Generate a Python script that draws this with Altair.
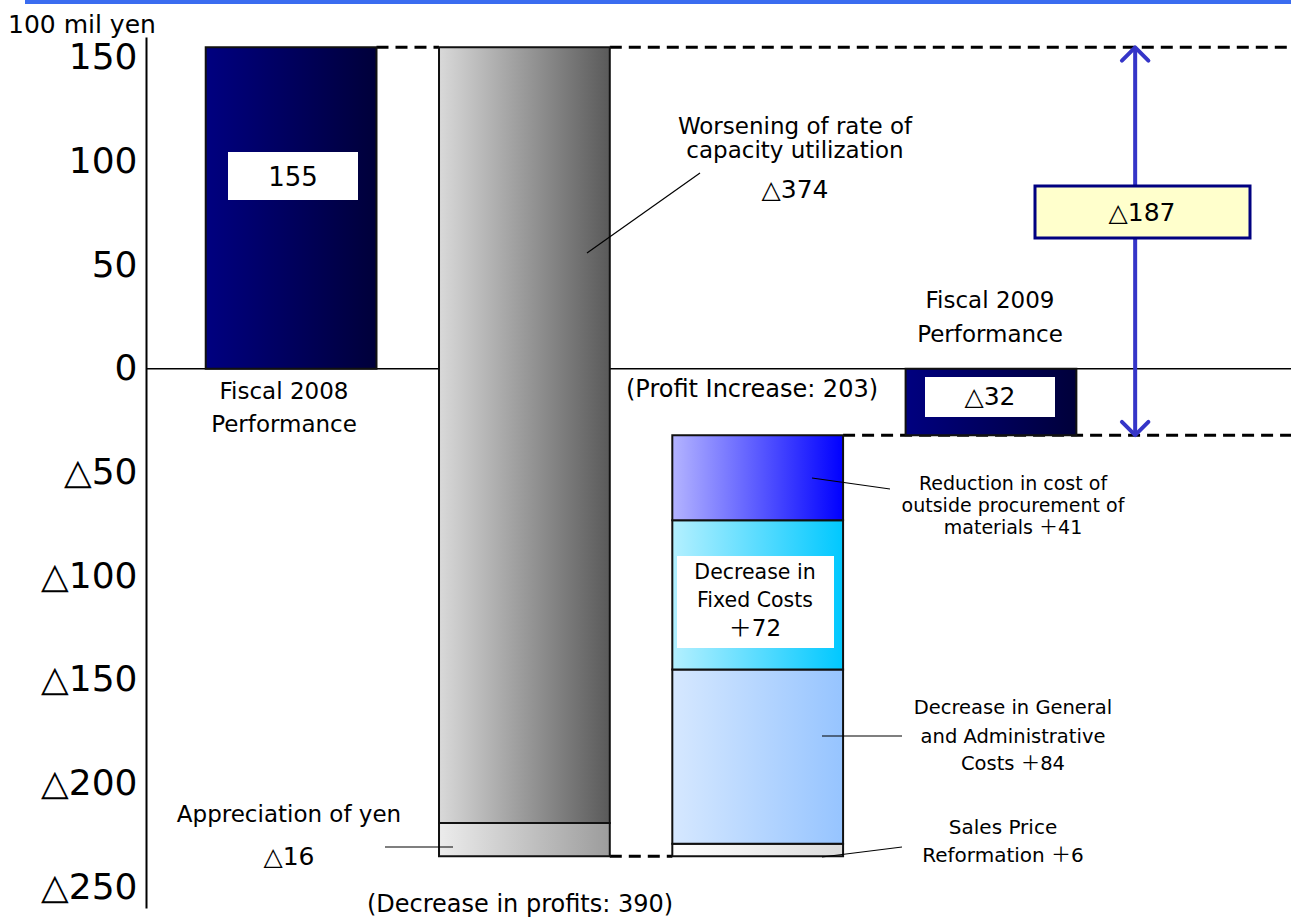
import altair as alt
import pandas as pd

# ---------------- data ----------------
steps = [
    "Fiscal 2008 Performance",
    "Worsening of rate of capacity utilization",
    "Appreciation of yen",
    "Sales Price Reformation",
    "Decrease in General and Administrative Costs",
    "Decrease in Fixed Costs",
    "Reduction in cost of outside procurement of materials",
    "Fiscal 2009 Performance",
]
values = [155, -374, -16, 6, 84, 72, 41, -32]
kinds = ["total", "delta", "delta", "delta", "delta", "delta", "delta", "total"]
columns = [1, 2, 2, 3, 3, 3, 3, 4]
fill_left = ["#000080", "#d9d9d9", "#ececec", "#ffffff", "#d6e8ff", "#b4f0ff", "#b4b4ff", "#000080"]
fill_right = ["#00003a", "#5a5a5a", "#9c9c9c", "#dcdcdc", "#96c4ff", "#00c8ff", "#0000ff", "#00003a"]

y_ticks = [150, 100, 50, 0, -50, -100, -150, -200, -250]

# ---------------- layout constants ----------------
LEFT, TOP = 146, 37
W, H = 1145, 871
Y_DOM = [-260, 160]
X_DOM = [0.378, 5.286]
HALF = 0.366
FONT = "DejaVu Sans, Noto Sans CJK JP"

rows = []
cum = 0
for s, v, k, c in zip(steps, values, kinds, columns):
    if k == "total":
        lo, hi = 0, v
        cum = v
    else:
        lo, hi = cum, cum + v
        cum = cum + v
    rows.append(dict(step=s, lo=lo, hi=hi, x0=c - HALF, x1=c + HALF))
bars = pd.DataFrame(rows)

xs = alt.Scale(domain=X_DOM, nice=False, zero=False)
ys = alt.Scale(domain=Y_DOM, nice=False, zero=False)
yaxis = alt.Axis(
    values=y_ticks,
    title=None,
    grid=False,
    ticks=False,
    domain=True,
    domainColor="black",
    domainWidth=2,
    labelFont=FONT,
    labelFontSize=36,
    labelColor="black",
    labelPadding=9,
    labelExpr="datum.value < 0 ? '△' + abs(datum.value) : datum.label",
)


def YQ(field):
    return alt.Y(field, scale=ys, axis=yaxis, title=None)


def XQ(field):
    return alt.X(field, scale=xs, axis=None, title=None)


layers = []

# zero line
zero = pd.DataFrame({"y": [0], "xa": [X_DOM[0]], "xb": [X_DOM[1]]})
layers.append(
    alt.Chart(zero).mark_rule(color="black", strokeWidth=1.5).encode(
        x=XQ("xa:Q"), x2="xb", y=YQ("y:Q")
    )
)

# dashed connectors (waterfall levels)
b = bars.set_index("step")
conn = pd.DataFrame(
    {
        "y": [b.loc[steps[0], "hi"], b.loc[steps[0], "hi"], b.loc[steps[2], "hi"], b.loc[steps[6], "hi"]],
        "xa": [1 + HALF, 2 + HALF, 2 + HALF, 3 + HALF],
        "xb": [2 - HALF, X_DOM[1], 3 - HALF, X_DOM[1]],
    }
)
layers.append(
    alt.Chart(conn).mark_rule(color="black", strokeWidth=3, strokeDash=[12, 7]).encode(
        x=XQ("xa:Q"), x2="xb", y=YQ("y:Q")
    )
)

# bars with gradient fills
for s, cl, cr in zip(steps, fill_left, fill_right):
    grad = alt.LinearGradient(
        gradient="linear",
        stops=[alt.GradientStop(color=cl, offset=0), alt.GradientStop(color=cr, offset=1)],
        x1=0, x2=1, y1=0, y2=0,
    )
    layers.append(
        alt.Chart(bars)
        .transform_filter(alt.datum.step == s)
        .mark_rect(fill=grad, stroke="#111111", strokeWidth=2)
        .encode(x=XQ("x0:Q"), x2="x1", y=YQ("lo:Q"), y2="hi")
    )

# double arrow for the change (155 -> -32)
ARROW_X = 4.618
arrow = pd.DataFrame({"x": [ARROW_X], "a": [values[0]], "b": [values[-1]]})
ARROW_COL = "#3535c8"
layers.append(
    alt.Chart(arrow).mark_rule(color=ARROW_COL, strokeWidth=4).encode(
        x=XQ("x:Q"), y=YQ("a:Q"), y2="b"
    )
)
layers.append(
    alt.Chart(arrow).mark_point(
        shape="M -1 1 L 0 0 L 1 1", size=700, stroke=ARROW_COL, strokeWidth=4,
        filled=False, opacity=1, strokeCap="round", strokeJoin="round"
    ).encode(x=XQ("x:Q"), y=YQ("a:Q"))
)
layers.append(
    alt.Chart(arrow).mark_point(
        shape="M -1 -1 L 0 0 L 1 -1", size=700, stroke=ARROW_COL, strokeWidth=4,
        filled=False, opacity=1, strokeCap="round", strokeJoin="round"
    ).encode(x=XQ("x:Q"), y=YQ("b:Q"))
)

# annotation boxes (pixel positions in the page)
boxes = pd.DataFrame(
    {
        "x0": [228, 925, 677, 1035],
        "x1": [358, 1055, 834, 1250],
        "y0": [152, 377, 556, 186],
        "y1": [200, 417, 648, 238],
        "fill": ["white", "white", "white", "#ffffcc"],
        "stroke": ["white", "white", "white", "#000080"],
        "sw": [0, 0, 0, 3],
    }
)
boxes[["x0", "x1"]] = boxes[["x0", "x1"]] - LEFT
boxes[["y0", "y1"]] = boxes[["y0", "y1"]] - TOP
layers.append(
    alt.Chart(boxes).mark_rect().encode(
        x=alt.X("x0:Q", scale=None, axis=None),
        x2="x1",
        y=alt.Y("y0:Q", scale=None, axis=None),
        y2="y1",
        fill=alt.Fill("fill:N", scale=None),
        stroke=alt.Stroke("stroke:N", scale=None),
        strokeWidth=alt.StrokeWidth("sw:Q", scale=None),
    )
)

# leader lines
leaders = pd.DataFrame(
    {
        "xa": [587, 812, 822, 822, 385],
        "ya": [253, 478, 736, 857, 847],
        "xb": [700, 890, 902, 902, 453],
        "yb": [173, 489, 736, 847, 847],
    }
)
leaders[["xa", "xb"]] = leaders[["xa", "xb"]] - LEFT
leaders[["ya", "yb"]] = leaders[["ya", "yb"]] - TOP
layers.append(
    alt.Chart(leaders).mark_rule(color="black", strokeWidth=1.2).encode(
        x=alt.X("xa:Q", scale=None, axis=None),
        y=alt.Y("ya:Q", scale=None, axis=None),
        x2="xb",
        y2="yb",
    )
)

# top blue band
band = pd.DataFrame({"xa": [25 - LEFT], "xb": [1291 - LEFT], "y": [2 - TOP]})
layers.append(
    alt.Chart(band).mark_rule(color="#3a6cf0", strokeWidth=4).encode(
        x=alt.X("xa:Q", scale=None, axis=None), x2="xb", y=alt.Y("y:Q", scale=None, axis=None)
    )
)

# texts
texts = [
    ("100 mil yen", 8, 25, 25, "left"),
    ("155", 293, 178, 26, "center"),
    ("Fiscal 2008", 284, 392, 23, "center"),
    ("Performance", 284, 425, 23, "center"),
    ("Worsening of rate of", 795, 127, 23, "center"),
    ("capacity utilization", 795, 151, 23, "center"),
    ("△374", 795, 190, 25, "center"),
    ("Fiscal 2009", 990, 301, 23, "center"),
    ("Performance", 990, 335, 23, "center"),
    ("(Profit Increase: 203)", 752, 390, 24, "center"),
    ("△32", 990, 397, 25, "center"),
    ("△187", 1142, 213, 25, "center"),
    ("Reduction in cost of", 1013, 484, 19, "center"),
    ("outside procurement of", 1013, 506, 19, "center"),
    ("materials ＋41", 1013, 528, 19, "center"),
    ("Decrease in", 755, 573, 20.5, "center"),
    ("Fixed Costs", 755, 601, 20.5, "center"),
    ("＋72", 755, 629, 23, "center"),
    ("Decrease in General", 1013, 708, 19.5, "center"),
    ("and Administrative", 1013, 737, 19.5, "center"),
    ("Costs ＋84", 1013, 764, 19.5, "center"),
    ("Sales Price", 1003, 828, 20, "center"),
    ("Reformation ＋6", 1003, 856, 20, "center"),
    ("Appreciation of yen", 289, 815, 23, "center"),
    ("△16", 289, 857, 25, "center"),
    ("(Decrease in profits: 390)", 520, 905, 24, "center"),
]
tdf = pd.DataFrame(texts, columns=["t", "x", "y", "fs", "al"])
tdf["x"] = tdf["x"] - LEFT
tdf["y"] = tdf["y"] - TOP
for al in ["left", "center"]:
    layers.append(
        alt.Chart(tdf)
        .transform_filter(alt.datum.al == al)
        .mark_text(font=FONT, color="black", align=al, baseline="middle")
        .encode(
            x=alt.X("x:Q", scale=None, axis=None),
            y=alt.Y("y:Q", scale=None, axis=None),
            text="t:N",
            size=alt.Size("fs:Q", scale=None, legend=None),
        )
    )

chart = (
    alt.layer(*layers)
    .properties(
        width=W,
        height=H,
        autosize=alt.AutoSizeParams(type="none"),
        padding={"left": LEFT, "top": TOP, "right": 0, "bottom": 917 - TOP - H},
        background="white",
    )
    .configure_view(stroke=None)
)

chart.save("out.html", embed_options={"renderer": "svg", "actions": False})
